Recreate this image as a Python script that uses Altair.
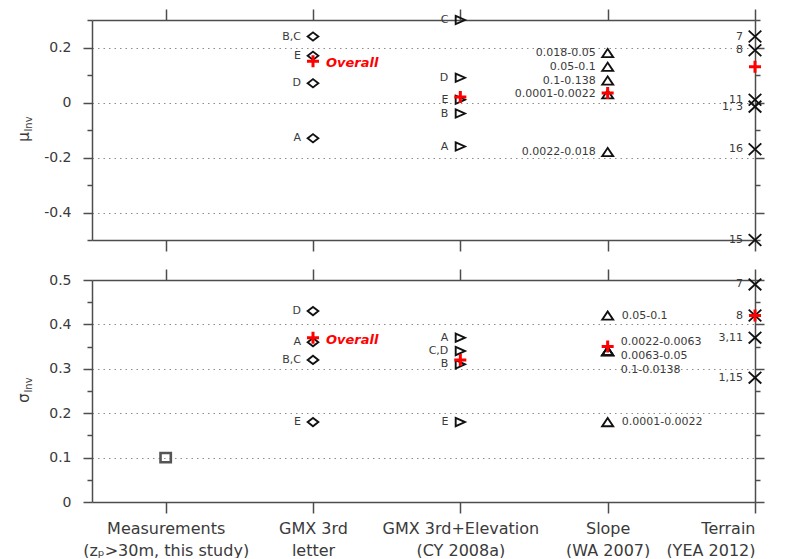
import json

import altair as alt
import pandas as pd

# Model groups along the x axis (two text lines per group name)
category_lines = [
    ["Measurements", "(zₚ>30m, this study)"],
    ["GMX 3rd", "letter"],
    ["GMX 3rd+Elevation", "(CY 2008a)"],
    ["Slope", "(WA 2007)"],
    ["Terrain", "(YEA 2012)"],
]
category_markers = ["square", "diamond", "tri_right", "tri_up", "cross"]

# Mean of the inversion residuals, mu_Inv
mu_gmx_labels = ["B,C", "E", "D", "A"]
mu_gmx_values = [0.24, 0.17, 0.07, -0.13]
mu_elev_labels = ["C", "D", "E", "B", "A"]
mu_elev_values = [0.30, 0.09, 0.01, -0.04, -0.16]
mu_slope_labels = ["0.018-0.05", "0.05-0.1", "0.1-0.138", "0.0001-0.0022", "0.0022-0.018"]
mu_slope_values = [0.18, 0.13, 0.08, 0.03, -0.18]
mu_terrain_labels = ["7", "8", "11", "1, 3", "16", "15"]
mu_terrain_values = [0.24, 0.19, 0.01, -0.015, -0.17, -0.50]
mu_overall = [None, 0.15, 0.02, 0.035, 0.13]

# Standard deviation of the inversion residuals, sigma_Inv
sigma_meas_labels = [""]
sigma_meas_values = [0.10]
sigma_gmx_labels = ["D", "A", "B,C", "E"]
sigma_gmx_values = [0.43, 0.36, 0.32, 0.18]
sigma_elev_labels = ["A", "C,D", "B", "E"]
sigma_elev_values = [0.37, 0.34, 0.31, 0.18]
sigma_slope_labels = ["0.05-0.1", "0.0022-0.0063", "0.0063-0.05", "0.1-0.0138", "0.0001-0.0022"]
sigma_slope_values = [0.42, 0.34, 0.34, 0.34, 0.18]
sigma_terrain_labels = ["7", "8", "3,11", "1,15"]
sigma_terrain_values = [0.49, 0.42, 0.37, 0.28]
sigma_overall = [None, 0.37, 0.32, 0.35, 0.42]

# Symbol outlines in units of half the symbol size
MARKER_PATHS = {
    "square": "M-1.03,-0.93L1.03,-0.93L1.03,0.93L-1.03,0.93Z",
    "diamond": "M-1.07,0L0,-0.83L1.07,0L0,0.83Z",
    "tri_right": "M-0.93,-0.83L0.93,0L-0.93,0.83Z",
    "tri_up": "M-1.1,0.83L0,-0.83L1.1,0.83Z",
    "cross": "M-1.26,-1.17L1.26,1.17M-1.26,1.17L1.26,-1.17",
}
PLUS_PATH = "M-1.2,0L1.2,0M0,-1.2L0,1.2"

FONT = "DejaVu Sans"
INK = "#3a3a3a"
FRAME = "#4d4d4d"
RED = "#ff0000"
X_DOMAIN = [-0.5, 4]
PLOT_W = 663


def make_frame(groups):
    rows = []
    for pos, labels, values in groups:
        for lab, val in zip(labels, values):
            rows.append({"pos": pos, "label": lab, "value": val,
                         "marker": category_markers[pos]})
    df = pd.DataFrame(rows)
    df["ink"] = ["#555555" if m == "square" else "#111111" for m in df["marker"]]
    df["weight"] = [2.6 if m == "square" else 1.9 for m in df["marker"]]
    return df


def label_frame(df, right_positions):
    lab = df[df["label"] != ""]
    g = lab.groupby(["pos", "value"], sort=False)["label"].agg("\n".join).reset_index()
    g["side"] = ["right" if p in right_positions else "left" for p in g["pos"]]
    g["multi"] = [("\n" in t) for t in g["label"]]
    return g


def overall_frame(values):
    rows = [{"pos": i, "value": v, "note": "Overall" if i == 1 else ""}
            for i, v in enumerate(values) if v is not None]
    return pd.DataFrame(rows)


def y_axes(lo, hi, major, minor):
    n = int(round((hi - lo) / minor))
    vals = [round(lo + i * minor, 4) for i in range(n + 1)]
    is_major = f"abs(datum.value / {major} - round(datum.value / {major})) < 0.001"
    interior = f"({is_major}) && datum.value > {lo + 1e-6} && datum.value < {hi - 1e-6}"
    common = dict(
        values=vals,
        tickSize={"condition": {"test": is_major, "value": 9}, "value": 5},
        tickColor=FRAME, tickWidth=1.5,
        domainColor=FRAME, domainWidth=1.5,
        title=None,
    )
    left = alt.Axis(
        orient="left",
        labelExpr=f"({is_major}) ? '' + round(datum.value * 100) / 100 : ''",
        labelFont=FONT, labelFontSize=14, labelColor=INK, labelPadding=12,
        grid=True,
        gridColor="#8c8c8c", gridDash=[1.5, 4], gridWidth=1.2,
        gridOpacity={"condition": {"test": interior, "value": 1}, "value": 0},
        **common,
    )
    right = alt.Axis(orient="right", labels=False, grid=False, **common)
    return left, right


def x_axes(show_names):
    common = dict(values=[0, 1, 2, 3, 4], tickSize=11, tickColor=FRAME, tickWidth=1.5,
                  domainColor=FRAME, domainWidth=1.5, grid=False, title=None)
    names = json.dumps(category_lines, ensure_ascii=False)
    if show_names:
        bottom = alt.Axis(orient="bottom", labelExpr=f"{names}[round(datum.value)]",
                          labelFont=FONT, labelFontSize=16, labelColor=INK,
                          labelLineHeight=22, labelPadding=7, **common)
    else:
        bottom = alt.Axis(orient="bottom", labels=False, **common)
    top = alt.Axis(orient="top", labels=False, **common)
    return bottom, top


def panel(df, overall, domain, major, minor, height, symbol, right_positions, show_names):
    xs = alt.Scale(domain=X_DOMAIN, nice=False, zero=False)
    ys = alt.Scale(domain=domain, nice=False, zero=False)
    left_ax, right_ax = y_axes(domain[0], domain[1], major, minor)
    bottom_ax, top_ax = x_axes(show_names)
    labels = label_frame(df, right_positions)
    ovr = overall_frame(overall)

    xq = lambda axis=None: alt.X("pos:Q", scale=xs, axis=axis)
    yq = lambda axis=None: alt.Y("value:Q", scale=ys, axis=axis)

    points = alt.Chart(df).mark_point(filled=False, size=100, opacity=1).encode(
        x=xq(bottom_ax), y=yq(left_ax),
        shape=alt.Shape("marker:N", legend=None,
                        scale=alt.Scale(domain=list(MARKER_PATHS),
                                        range=list(MARKER_PATHS.values()))),
        stroke=alt.Stroke("ink:N", scale=None),
        strokeWidth=alt.StrokeWidth("weight:Q", scale=None),
    )
    frame = alt.Chart(df).mark_point(opacity=0).encode(x=xq(top_ax), y=yq(right_ax))

    plus = alt.Chart(ovr).mark_point(shape=PLUS_PATH, size=100, filled=False, opacity=1,
                                     stroke=RED, strokeWidth=3).encode(x=xq(), y=yq())
    note = alt.Chart(ovr).transform_filter("datum.note != ''").mark_text(
        align="left", baseline="middle", dx=13, dy=2, font=FONT, fontSize=13,
        fontWeight="bold", fontStyle="italic", color=RED,
    ).encode(x=xq(), y=yq(), text="note:N")

    text_style = dict(baseline="middle", font=FONT, fontSize=11, color=INK,
                      lineBreak="\n", lineHeight=14)
    left_text = alt.Chart(labels).transform_filter("datum.side == 'left'").mark_text(
        align="right", dx=-12, **text_style).encode(x=xq(), y=yq(), text="label:N")
    right_text = alt.Chart(labels).transform_filter(
        "datum.side == 'right' && !datum.multi").mark_text(
        align="left", dx=14, **text_style).encode(x=xq(), y=yq(), text="label:N")
    right_multi = alt.Chart(labels).transform_filter(
        "datum.side == 'right' && datum.multi").mark_text(
        align="left", dx=13, dy=-9, **text_style).encode(x=xq(), y=yq(), text="label:N")

    title_main = alt.Chart(pd.DataFrame({"t": [symbol]})).mark_text(
        angle=270, align="center", baseline="middle", font=FONT, fontSize=15, color=INK,
    ).encode(x=alt.value(-68), y=alt.value(height / 2 + 7), text="t:N")
    title_sub = alt.Chart(pd.DataFrame({"t": ["Inv"]})).mark_text(
        angle=270, align="center", baseline="middle", font=FONT, fontSize=10, color=INK,
    ).encode(x=alt.value(-63), y=alt.value(height / 2 - 6), text="t:N")

    return alt.layer(
        points, frame, plus, left_text, right_text, right_multi, note,
        title_main, title_sub,
    ).resolve_axis(x="independent", y="independent").properties(
        width=PLOT_W, height=height)


mu_df = make_frame([
    (1, mu_gmx_labels, mu_gmx_values),
    (2, mu_elev_labels, mu_elev_values),
    (3, mu_slope_labels, mu_slope_values),
    (4, mu_terrain_labels, mu_terrain_values),
])
sigma_df = make_frame([
    (0, sigma_meas_labels, sigma_meas_values),
    (1, sigma_gmx_labels, sigma_gmx_values),
    (2, sigma_elev_labels, sigma_elev_values),
    (3, sigma_slope_labels, sigma_slope_values),
    (4, sigma_terrain_labels, sigma_terrain_values),
])

top = panel(mu_df, mu_overall, [-0.5, 0.3], 0.2, 0.1, 220, "μ", set(), False)
bottom = panel(sigma_df, sigma_overall, [0.0, 0.5], 0.1, 0.05, 222, "σ", {3}, True)

chart = alt.vconcat(top, bottom, spacing=16).properties(
    padding={"left": 17, "top": 8, "right": 0, "bottom": 0},
    background="white",
).configure_view(stroke=None)

chart.save("out.html", embed_options={"renderer": "svg", "actions": False})
